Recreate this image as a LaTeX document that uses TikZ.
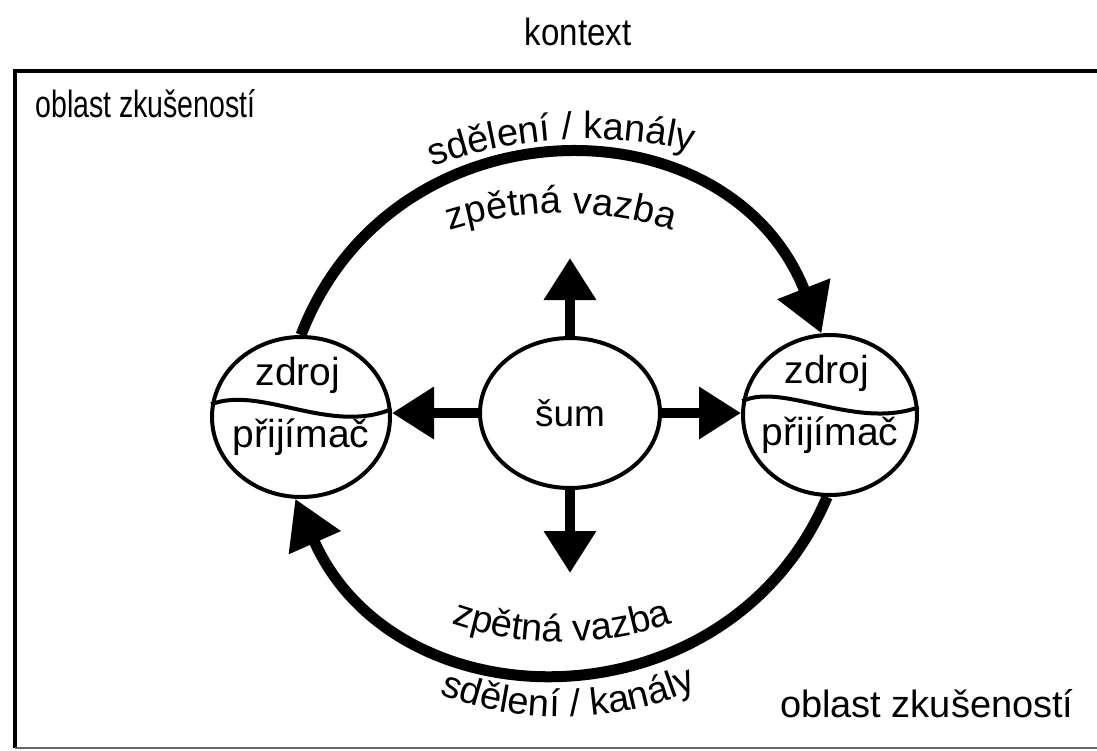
\documentclass[tikz,border=0pt]{standalone}
\usepackage{fontspec}
\setmainfont{Liberation Sans}
\usetikzlibrary{shapes.geometric,arrows.meta,decorations.text,calc}
\newcommand{\arcfont}{\fontsize{19}{22}\selectfont}
\begin{document}
\begin{tikzpicture}[x=0.5pt,y=0.5pt,
  bubble/.style={draw,ellipse,line width=2pt},
  lbl/.style={font=\fontsize{19}{22}\selectfont},
  inlbl/.style={font=\fontsize{19.5}{22}\selectfont,anchor=base},
  wave/.style={line width=2pt},
  loop/.style={line width=5.5pt,-{Triangle[length=24pt,width=27pt]}},
  noise/.style={line width=5pt,-{Triangle[length=21pt,width=25pt]}},
  arclabel/.style={decorate,decoration={text along path,text align=center,text={|\arcfont|#1}}}]
\tikzstyle{every node}+=[inner sep=0pt]
\useasboundingbox (0,0) rectangle (1097,-750);
\draw [line width=2.2pt] (1097,-71) -- (15,-71) -- (15,-748);
\draw [line width=1pt,black!60] (15,-748) -- (1097,-748);
\node [lbl,anchor=base] (ctx) at (578,-45) {\scalebox{0.87}[1]{kontext}};
\node [lbl,anchor=base west] (ozl) at (35,-117) {\scalebox{0.75}[1]{oblast zkušeností}};
\node [lbl,anchor=base east] (ozr) at (1074,-717) {oblast zkušeností};
\node [bubble,minimum width=89pt,minimum height=80pt] (zl) at (301,-417) {};
\node [bubble,minimum width=87pt,minimum height=80pt] (zr) at (830,-415) {};
\node [bubble,minimum width=90pt,minimum height=75pt,font=\fontsize{18.5}{21}\selectfont] (sum) at (570,-413) {šum};
\draw [wave] (zl.172) .. controls ($(zl)+(-41,32)$) and ($(zl)+(29,-18)$) .. (zl.5);
\draw [wave] (zr.171) .. controls ($(zr)+(-47,33)$) and ($(zr)+(25,-15)$) .. (zr.5);
\node [inlbl] (zlt) at ($(zl)+(-3,32)$) {zdroj};
\node [inlbl] (zlb) at ($(zl)+(0,-30)$) {přijímač};
\node [inlbl] (zrt) at ($(zr)+(-3,32)$) {zdroj};
\node [inlbl] (zrb) at ($(zr)+(0,-30)$) {přijímač};
\coordinate (nu) at (570,-258);
\coordinate (nd) at (570,-573);
\draw [noise] (sum.north) -- (nu);
\draw [noise] (sum.south) -- (nd);
\draw [noise] (sum.west) -- (sum.west -| zl.east);
\draw [noise] (sum.east) -- (sum.east -| zr.west);
\draw [loop] (zl.north) to [out=69,in=111.5,looseness=1.25] (zr.96);
\draw [loop] (zr.268) to [out=-113,in=-66,looseness=1.21] (zl.266);
\coordinate (ctop) at (588,-596);
\coordinate (ctopin) at (561,-583);
\coordinate (cbotin) at (562,-303);
\coordinate (cbot) at (562,-380);
\path [arclabel={sdělení / kanály}] ($(ctop)+(113.4:457)$) arc [start angle=113.4,end angle=73.4,radius=457];
\path [arclabel={zpětná vazba}] ($(ctopin)+(120:370)$) arc [start angle=120,end angle=60,radius=370];
\path [arclabel={zpětná vazba}] ($(cbotin)+(240:339)$) arc [start angle=240,end angle=300,radius=339];
\path [arclabel={sdělení / kanály}] ($(cbot)+(241.2:337)$) arc [start angle=241.2,end angle=301.2,radius=337];
\end{tikzpicture}
\end{document}
